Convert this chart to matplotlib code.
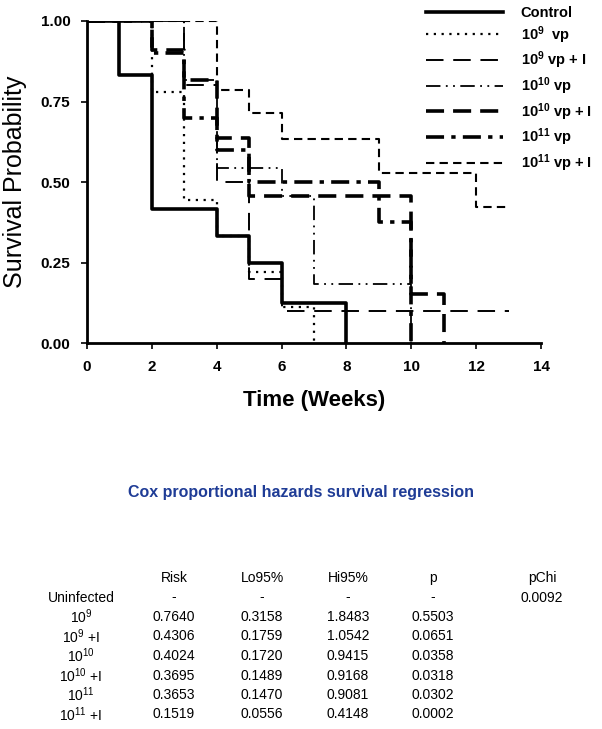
import matplotlib
matplotlib.use("Agg")
import matplotlib.pyplot as plt

plt.rcParams['font.family'] = ['Liberation Sans', 'DejaVu Sans']
plt.rcParams['mathtext.default'] = 'regular'

# 生存曲線データ (週, 生存確率)
control_t = [0, 1, 2, 4, 5, 6, 8]
control_s = [1.0, 0.833, 0.417, 0.333, 0.25, 0.125, 0.0]
vp9_t = [0, 2, 3, 4, 5, 6, 7]
vp9_s = [1.0, 0.778, 0.444, 0.333, 0.222, 0.111, 0.0]
vp9i_t = [0, 3, 4, 5, 6, 13]
vp9i_s = [1.0, 0.8, 0.5, 0.2, 0.1, 0.1]
vp10_t = [0, 3, 4, 6, 7, 10]
vp10_s = [1.0, 0.818, 0.545, 0.455, 0.182, 0.0]
vp10i_t = [0, 2, 3, 4, 5, 10, 11]
vp10i_s = [1.0, 0.909, 0.818, 0.636, 0.455, 0.152, 0.0]
vp11_t = [0, 2, 3, 4, 5, 9, 10]
vp11_s = [1.0, 0.9, 0.7, 0.6, 0.5, 0.375, 0.0]
vp11i_t = [0, 4, 5, 6, 9, 12, 13]
vp11i_s = [1.0, 0.786, 0.714, 0.633, 0.527, 0.422, 0.422]

labels = ['Control', '10$^{9}$  vp', '10$^{9}$ vp + I', '10$^{10}$ vp',
          '10$^{10}$ vp + I', '10$^{11}$ vp', '10$^{11}$ vp + I']

# Cox回帰の表
row_labels = ['Uninfected', '10$^{9}$', '10$^{9}$ +I', '10$^{10}$', '10$^{10}$ +I',
              '10$^{11}$', '10$^{11}$ +I']
col_labels = ['Risk', 'Lo95%', 'Hi95%', 'p', 'pChi']
risk = ['-', '0.7640', '0.4306', '0.4024', '0.3695', '0.3653', '0.1519']
lo95 = ['-', '0.3158', '0.1759', '0.1720', '0.1489', '0.1470', '0.0556']
hi95 = ['-', '1.8483', '1.0542', '0.9415', '0.9168', '0.9081', '0.4148']
pval = ['-', '0.5503', '0.0651', '0.0358', '0.0318', '0.0302', '0.0002']
pchi = ['0.0092', '', '', '', '', '', '']

W, H = 602, 729
fig = plt.figure(figsize=(W / 100, H / 100), dpi=100)
ax = fig.add_axes([87 / W, 1 - 343 / H, (541 - 87) / W, (343 - 21) / H])

styles = [
    dict(ls='-', lw=2.6),
    dict(ls=(0, (1, 2.5)), lw=1.6),
    dict(ls=(0, (9, 5)), lw=1.4),
    dict(ls=(0, (8, 3, 1, 3, 1, 3)), lw=1.3),
    dict(ls=(0, (5, 2.5)), lw=2.6),
    dict(ls=(0, (5, 2, 1.2, 2)), lw=2.6),
    dict(ls=(0, (4, 2.5)), lw=1.5),
]
series = [(control_t, control_s), (vp9_t, vp9_s), (vp9i_t, vp9i_s), (vp10_t, vp10_s),
          (vp10i_t, vp10i_s), (vp11_t, vp11_s), (vp11i_t, vp11i_s)]
for (t, s), st, lab in zip(series, styles, labels):
    ax.step(t, s, where='post', color='black', label=lab, **st)

ax.set_xlim(0, 14)
ax.set_ylim(0, 1.0)
ax.set_xticks(range(0, 15, 2))
ax.set_yticks([0, 0.25, 0.5, 0.75, 1.0])
ax.set_yticklabels(['0.00', '0.25', '0.50', '0.75', '1.00'])
for sp in ['top', 'right']:
    ax.spines[sp].set_visible(False)
for sp in ['left', 'bottom']:
    ax.spines[sp].set_linewidth(2)
ax.tick_params(direction='out', length=4, width=1.2, labelsize=11, pad=8)
for lbl in ax.get_xticklabels() + ax.get_yticklabels():
    lbl.set_fontweight('bold')
ax.set_xlabel('Time (Weeks)', fontsize=16, fontweight='bold', labelpad=12)
ax.set_ylabel('Survival Probability', fontsize=18, labelpad=10)

leg = ax.legend(loc='upper left', bbox_to_anchor=(420 / W, 1 - 0 / H),
                bbox_transform=fig.transFigure, frameon=False, handlelength=5.3,
                handletextpad=1.2, labelspacing=0.28, borderaxespad=0,
                prop=dict(size=10.5, weight='bold'))

# 表
fig.text(301 / W, 1 - 493 / H, 'Cox proportional hazards survival regression',
         ha='center', va='center', fontsize=11.5, fontweight='bold', color='#1f3c96')

col_x = [174, 262, 348, 433, 542]
row_x = 81
y0, dy = 578, 19.5
for x, c in zip(col_x, col_labels):
    fig.text(x / W, 1 - y0 / H, c, ha='center', va='center', fontsize=10)
columns = [risk, lo95, hi95, pval, pchi]
for i, r in enumerate(row_labels):
    y = 1 - (y0 + dy * (i + 1)) / H
    fig.text(row_x / W, y, r, ha='center', va='center', fontsize=10)
    for x, col in zip(col_x, columns):
        fig.text(x / W, y, col[i], ha='center', va='center', fontsize=10)

fig.savefig('out.png', dpi=100)
